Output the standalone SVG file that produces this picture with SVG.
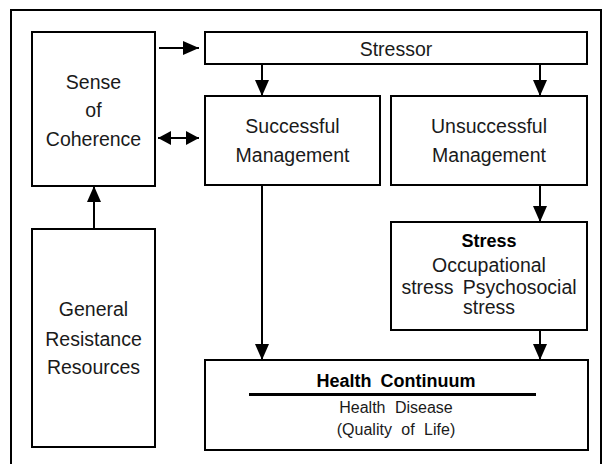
<svg xmlns="http://www.w3.org/2000/svg" width="608" height="464" viewBox="0 0 608 464">
<defs>
<marker id="ah" viewBox="0 0 16 14" markerWidth="16" markerHeight="14" refX="16" refY="7" orient="auto-start-reverse" markerUnits="userSpaceOnUse">
<path d="M0,0 L16,7 L0,14 z" fill="#000"/>
</marker>
<marker id="ahs" viewBox="0 0 13 14" markerWidth="13" markerHeight="14" refX="13" refY="7" orient="auto-start-reverse" markerUnits="userSpaceOnUse">
<path d="M0,0 L13,7 L0,14 z" fill="#000"/>
</marker>
<style>
.box{fill:#fff;stroke:#000;stroke-width:2}
.t{font-family:"Liberation Sans",Arial,sans-serif;font-size:19.5px;fill:#1a1a1a;text-anchor:middle}
.b{font-weight:bold;font-size:18px;fill:#000}
.s{font-size:16px}
.c{stroke:#000;stroke-width:2;fill:none;marker-end:url(#ah)}
</style>
</defs>
<rect x="11" y="10" width="590" height="470" fill="#fff" stroke="#000" stroke-width="2"/>
<g id="soc">
<rect class="box" x="32" y="32" width="123" height="154"/>
<text class="t" x="93.5" y="89">Sense</text>
<text class="t" x="93.5" y="117">of</text>
<text class="t" x="93.5" y="146">Coherence</text>
</g>
<g id="stressor">
<rect class="box" x="205" y="32" width="382" height="32"/>
<text class="t" x="396" y="56">Stressor</text>
</g>
<g id="successful">
<rect class="box" x="205" y="96" width="175" height="89"/>
<text class="t" x="292.5" y="133">Successful</text>
<text class="t" x="292.5" y="162">Management</text>
</g>
<g id="unsuccessful">
<rect class="box" x="391" y="96" width="196" height="89"/>
<text class="t" x="489" y="133">Unsuccessful</text>
<text class="t" x="489" y="162">Management</text>
</g>
<g id="stress">
<rect class="box" x="391" y="222" width="196" height="108"/>
<text class="t b" x="489" y="247">Stress</text>
<text class="t" x="489" y="272">Occupational</text>
<text class="t" x="489" y="294" word-spacing="4">stress Psychosocial</text>
<text class="t" x="489" y="314">stress</text>
</g>
<g id="grr">
<rect class="box" x="32" y="229" width="123" height="218"/>
<text class="t" x="93.5" y="316">General</text>
<text class="t" x="93.5" y="346">Resistance</text>
<text class="t" x="93.5" y="374">Resources</text>
</g>
<g id="health">
<rect class="box" x="205" y="360" width="383" height="90"/>
<text class="t b" x="396" y="387" word-spacing="4">Health Continuum</text>
<line x1="249" y1="394.5" x2="536" y2="394.5" stroke="#000" stroke-width="3"/>
<text class="t s" x="396" y="413" word-spacing="5">Health Disease</text>
<text class="t s" x="396" y="435" word-spacing="5">(Quality of Life)</text>
</g>
<g id="connectors">
<line class="c" x1="159" y1="48" x2="199" y2="48"/>
<line class="c" x1="262" y1="64" x2="262" y2="96"/>
<line class="c" x1="540" y1="64" x2="540" y2="96"/>
<line x1="158" y1="138" x2="199" y2="138" stroke="#000" stroke-width="2" marker-start="url(#ahs)" marker-end="url(#ahs)"/>
<line class="c" x1="94" y1="229" x2="94" y2="186"/>
<line class="c" x1="262" y1="185" x2="262" y2="360"/>
<line class="c" x1="540" y1="185" x2="540" y2="222"/>
<line class="c" x1="540" y1="330" x2="540" y2="360"/>
</g>
</svg>
